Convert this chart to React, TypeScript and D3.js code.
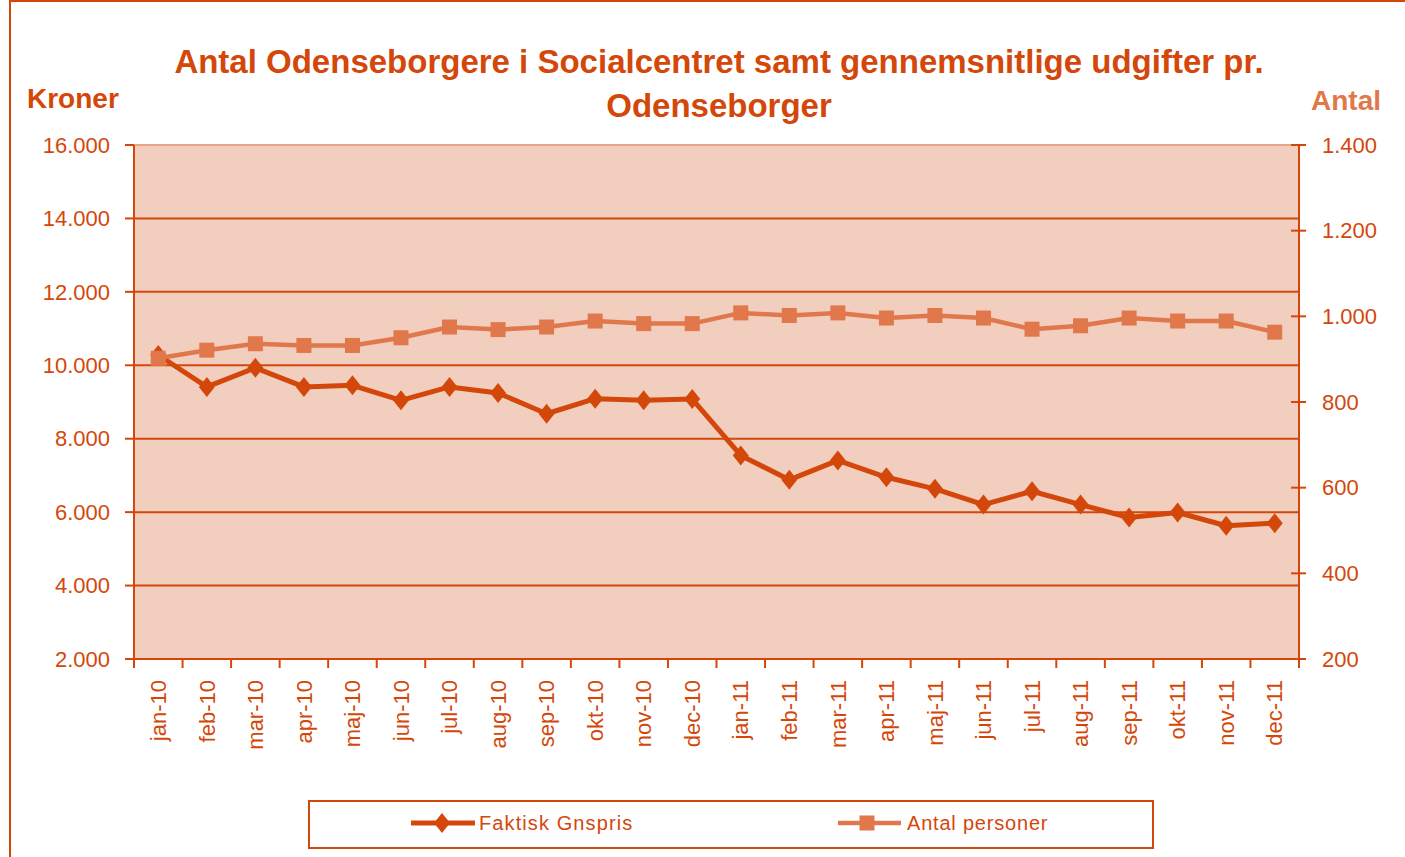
import React from "react";
import * as d3 from "d3";

const months = [
  "jan-10", "feb-10", "mar-10", "apr-10", "maj-10", "jun-10", "jul-10", "aug-10", "sep-10", "okt-10", "nov-10", "dec-10",
  "jan-11", "feb-11", "mar-11", "apr-11", "maj-11", "jun-11", "jul-11", "aug-11", "sep-11", "okt-11", "nov-11", "dec-11",
];
const faktiskGnspris = [
  10280, 9410, 9930, 9410, 9455, 9045, 9410, 9245, 8680, 9090, 9050, 9080,
  7545, 6880, 7410, 6950, 6635, 6205, 6570, 6205, 5855, 5990, 5630, 5700,
];
const antalPersoner = [
  902, 921, 936, 932, 932, 950, 975, 969, 975, 989, 983, 983,
  1008, 1002, 1008, 996, 1002, 996, 970, 978, 996, 989, 989, 963,
];
const kronerTicks = [2000, 4000, 6000, 8000, 10000, 12000, 14000, 16000];
const antalTicks = [200, 400, 600, 800, 1000, 1200, 1400];

const DARK = "#D4470A";
const LIGHT = "#E0784C";
const FONT = "'Liberation Sans', Arial, sans-serif";

const dk = d3.formatLocale({ decimal: ",", thousands: ".", grouping: [3], currency: ["", ""] });
const fmt = dk.format(",");

// diamond marker, a bit taller than wide
const diamond = (w: number, h: number) => `M0,${-h / 2}L${w / 2},0L0,${h / 2}L${-w / 2},0Z`;

export default function App() {
  const W = 1405, H = 857;
  const m = { left: 134, right: 1299, top: 145, bottom: 659 };

  const x = d3.scaleBand().domain(months).range([m.left, m.right]).padding(0);
  const yL = d3.scaleLinear().domain([2000, 16000]).range([m.bottom, m.top]);
  const yR = d3.scaleLinear().domain([200, 1400]).range([m.bottom, m.top]);
  const cx = (d: string) => (x(d) as number) + x.bandwidth() / 2;

  const lineL = d3.line<number>().x((_, i) => cx(months[i])).y(d => yL(d));
  const lineR = d3.line<number>().x((_, i) => cx(months[i])).y(d => yR(d));

  return (
    <div style={{ position: "absolute", left: 0, top: 0 }}>
      <svg width={W} height={H} style={{ display: "block", background: "#fff" }} fontFamily={FONT}>
        {/* outer chart border */}
        <rect x={10} y={1} width={1420} height={900} fill="none" stroke={DARK} strokeWidth={2} />

        <text x={719} y={73} textAnchor="middle" fontSize={33} fontWeight="bold" fill={DARK}>
          Antal Odenseborgere i Socialcentret samt gennemsnitlige udgifter pr.
        </text>
        <text x={719} y={117} textAnchor="middle" fontSize={33} fontWeight="bold" fill={DARK}>
          Odenseborger
        </text>
        <text x={27} y={108} fontSize={28} fontWeight="bold" fill={DARK}>Kroner</text>
        <text x={1381} y={110} textAnchor="end" fontSize={28} fontWeight="bold" fill={LIGHT}>Antal</text>

        {/* plot area */}
        <rect x={m.left} y={m.top} width={m.right - m.left} height={m.bottom - m.top} fill="#F2CEBE" stroke="#E8A688" strokeWidth={2} />

        {/* gridlines */}
        {kronerTicks.filter(t => t > 2000 && t < 16000).map(t => (
          <line key={t} x1={m.left} x2={m.right} y1={yL(t)} y2={yL(t)} stroke={DARK} strokeWidth={2} />
        ))}

        {/* left axis */}
        <line x1={m.left} x2={m.left} y1={m.top} y2={m.bottom} stroke={DARK} strokeWidth={2} />
        {kronerTicks.map(t => (
          <g key={t}>
            <line x1={m.left - 9} x2={m.left} y1={yL(t)} y2={yL(t)} stroke={DARK} strokeWidth={2} />
            <text x={110} y={yL(t)} dy="0.35em" textAnchor="end" fontSize={22} fill={DARK}>{fmt(t)}</text>
          </g>
        ))}

        {/* right axis */}
        <line x1={m.right} x2={m.right} y1={m.top} y2={m.bottom} stroke={DARK} strokeWidth={2} />
        {antalTicks.map(t => (
          <g key={t}>
            <line x1={m.right - 8} x2={m.right + 7} y1={yR(t)} y2={yR(t)} stroke={DARK} strokeWidth={2} />
            <text x={1322} y={yR(t)} dy="0.35em" fontSize={22} fill={DARK}>{fmt(t)}</text>
          </g>
        ))}

        {/* bottom axis */}
        <line x1={m.left - 9} x2={m.right} y1={m.bottom} y2={m.bottom} stroke={DARK} strokeWidth={2} />
        {months.concat(["end"]).map((d, i) => {
          const tx = m.left + i * x.bandwidth();
          return <line key={"t" + i} x1={tx} x2={tx} y1={m.bottom} y2={m.bottom + 9} stroke={DARK} strokeWidth={2} />;
        })}
        {months.map(d => (
          <text key={d} transform={`translate(${cx(d)},680) rotate(-90)`} dy="0.35em" textAnchor="end" fontSize={22} fill={DARK}>{d}</text>
        ))}

        {/* Faktisk Gnspris */}
        <path d={lineL(faktiskGnspris) as string} fill="none" stroke={DARK} strokeWidth={5} strokeLinejoin="round" />
        {faktiskGnspris.map((v, i) => (
          <path key={i} transform={`translate(${cx(months[i])},${yL(v)})`} d={diamond(16, 20)} fill={DARK} />
        ))}

        {/* Antal personer */}
        <path d={lineR(antalPersoner) as string} fill="none" stroke={LIGHT} strokeWidth={4.5} strokeLinejoin="round" />
        {antalPersoner.map((v, i) => (
          <rect key={i} x={cx(months[i]) - 7.5} y={yR(v) - 7.5} width={15} height={15} fill={LIGHT} />
        ))}

        {/* legend */}
        <rect x={309} y={801} width={844} height={47} fill="#fff" stroke={DARK} strokeWidth={2} />
        <line x1={411} x2={475} y1={823} y2={823} stroke={DARK} strokeWidth={5} />
        <path transform="translate(442,823)" d={diamond(16, 20)} fill={DARK} />
        <text x={479} y={823} dy="0.35em" fontSize={20} letterSpacing={1.1} fill={DARK}>Faktisk Gnspris</text>
        <line x1={838} x2={901} y1={823} y2={823} stroke={LIGHT} strokeWidth={4.5} />
        <rect x={859.5} y={815.5} width={15} height={15} fill={LIGHT} />
        <text x={907} y={823} dy="0.35em" fontSize={20} letterSpacing={0.8} fill={DARK}>Antal personer</text>
      </svg>
    </div>
  );
}
